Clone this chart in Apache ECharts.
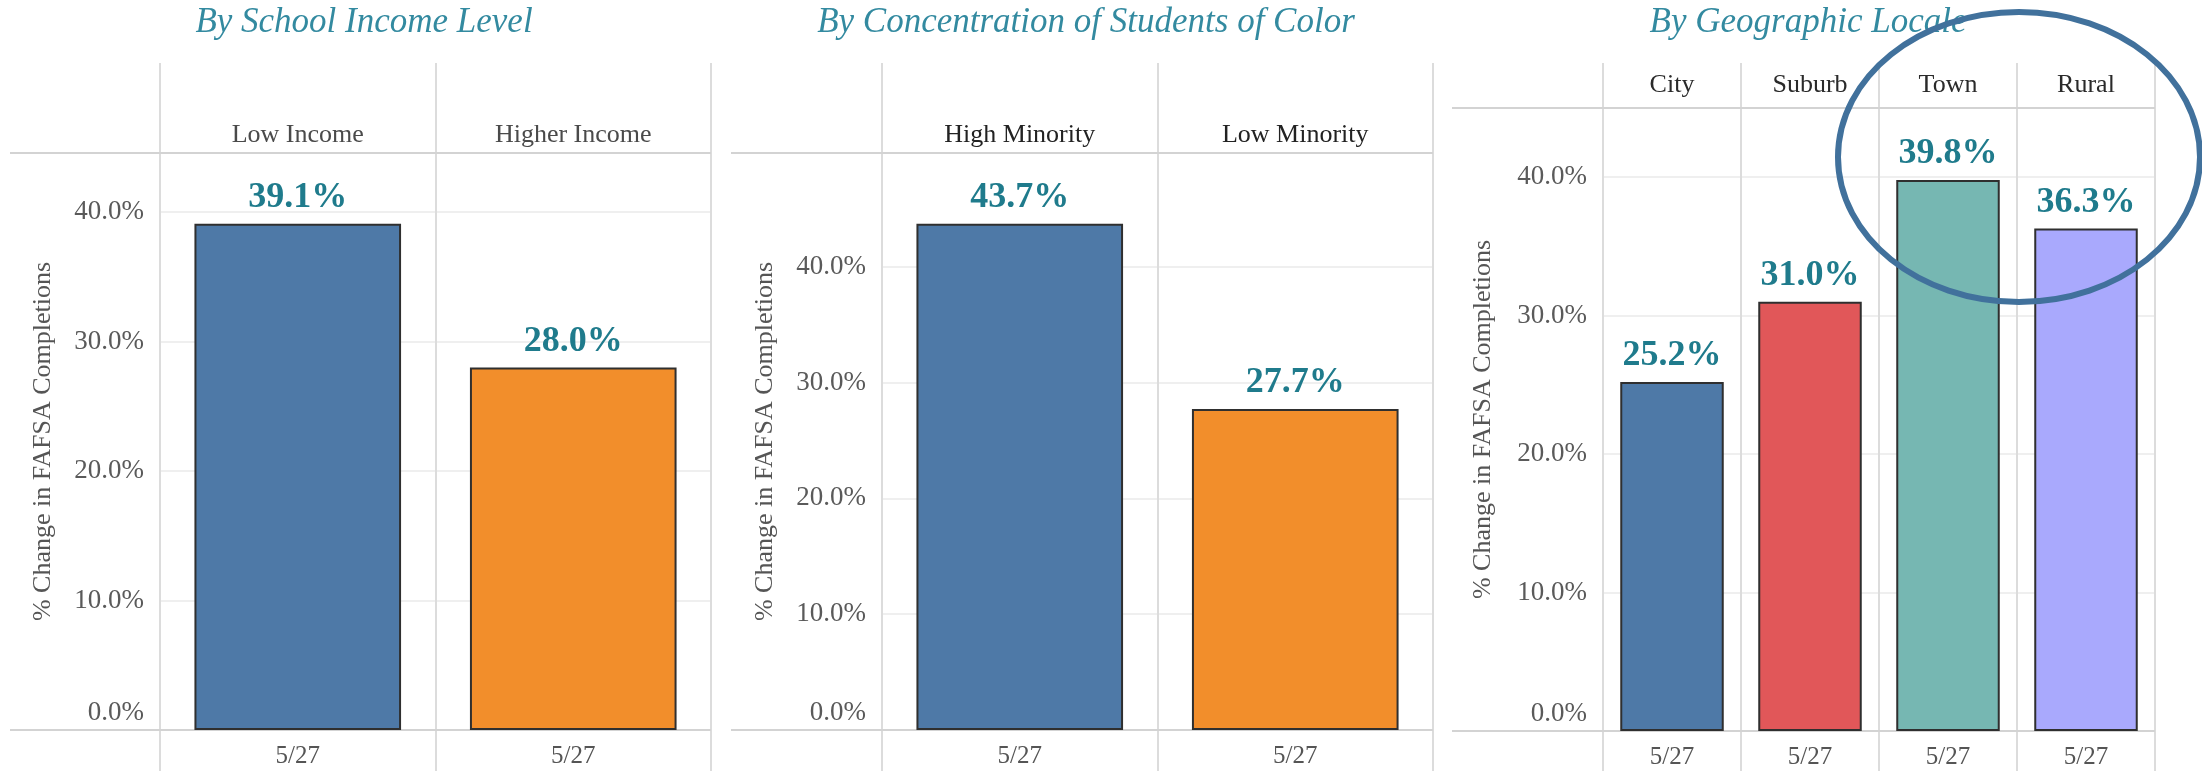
<!DOCTYPE html>
<html>
<head>
<meta charset="utf-8">
<script src="https://cdn.jsdelivr.net/npm/echarts/dist/echarts.min.js"></script>
<style>
html,body{margin:0;padding:0;background:#ffffff;overflow:hidden}
#chart{width:2202px;height:771px}
</style>
</head>
<body>
<div id="chart"></div>
<script>
// ---------- data ----------
const panelTitles = ['By School Income Level', 'By Concentration of Students of Color', 'By Geographic Locale'];
const incomeCategories = ['Low Income', 'Higher Income'];
const incomeValues = [39.1, 28.0];
const minorityCategories = ['High Minority', 'Low Minority'];
const minorityValues = [43.7, 27.7];
const localeCategories = ['City', 'Suburb', 'Town', 'Rural'];
const localeValues = [25.2, 31.0, 39.8, 36.3];
const dateLabel = '5/27';
const yTickValues = [0, 10, 20, 30, 40];
const yAxisTitle = '% Change in FAFSA Completions';
const incomeColors = ['#4e79a7', '#f28e2b'];
const minorityColors = ['#4e79a7', '#f28e2b'];
const localeColors = ['#4e79a7', '#e15759', '#76b7b2', '#a9a9fd'];

// ---------- layout / style ----------
const FONT = '"Liberation Serif", "Times New Roman", serif';
const TICK_SIZE = 27;
const panels = [
  { cats: incomeCategories, vals: incomeValues, colors: incomeColors, headColor: '#4a4a4a',
    plotL: 160, plotR: 711, top: 153, bottom: 730, ruleL: 10, max: 44.56, headMargin: 5, titleX: 359, nameGap: 104 },
  { cats: minorityCategories, vals: minorityValues, colors: minorityColors, headColor: '#222222',
    plotL: 882, plotR: 1433, top: 153, bottom: 730, ruleL: 731, max: 49.8, headMargin: 5, titleX: 1081, nameGap: 104 },
  { cats: localeCategories, vals: localeValues, colors: localeColors, headColor: '#2a2a2a',
    plotL: 1603, plotR: 2155, top: 108, bottom: 731, ruleL: 1452, max: 45.0, headMargin: 10, titleX: 1803, nameGap: 107 }
];
const W = 2202, H = 771;
const ruleTop = 63;

const option = {
  backgroundColor: '#ffffff',
  animation: false,
  title: [], grid: [], xAxis: [], yAxis: [], series: [],
  graphic: []
};

panels.forEach((p, i) => {
  option.title.push({
    text: panelTitles[i], left: p.titleX, top: 0, textAlign: 'center',
    textStyle: { fontFamily: FONT, fontStyle: 'italic', fontWeight: 'normal', fontSize: 35, color: '#338aa0' }
  });
  const g0 = option.grid.length;
  option.grid.push({ left: p.plotL, width: p.plotR - p.plotL, top: p.top, height: p.bottom - p.top, containLabel: false });
  option.grid.push({ left: p.plotL, width: p.plotR - p.plotL, top: ruleTop, height: H - ruleTop });
  option.grid.push({ left: p.ruleL, width: p.plotR - p.ruleL, top: p.top, height: p.bottom - p.top });

  const x0 = option.xAxis.length;
  option.xAxis.push({
    type: 'category', gridIndex: g0, position: 'bottom', data: p.cats,
    axisLine: { show: false }, axisTick: { show: false }, splitLine: { show: false },
    axisLabel: { interval: 0, margin: 14, formatter: () => dateLabel, fontFamily: FONT, fontSize: 25, color: '#555555' }
  });
  option.xAxis.push({
    type: 'category', gridIndex: g0, position: 'top', data: p.cats,
    axisLine: { show: false }, axisTick: { show: false }, splitLine: { show: false },
    axisLabel: { interval: 0, margin: p.headMargin, fontFamily: FONT, fontSize: 26, color: p.headColor }
  });
  option.xAxis.push({
    type: 'category', gridIndex: g0 + 1, data: p.cats,
    axisLine: { show: false }, axisTick: { show: false }, axisLabel: { show: false },
    splitLine: { show: true, interval: 0, lineStyle: { color: '#dcdcdc', width: 2 } }
  });
  option.xAxis.push({ type: 'value', gridIndex: g0 + 2, show: false, min: 0, max: 1 });

  const y0 = option.yAxis.length;
  option.yAxis.push({
    type: 'value', gridIndex: g0, min: 0, max: p.max, interval: 10, z: 0,
    name: yAxisTitle, nameLocation: 'middle', nameGap: p.nameGap,
    nameTextStyle: { fontFamily: FONT, fontSize: 26, color: '#555555' },
    axisLine: { show: false }, axisTick: { show: false },
    axisLabel: {
      margin: 16, fontFamily: FONT, fontSize: TICK_SIZE, color: '#5a5a5a', showMaxLabel: false,
      formatter: v => {
        if (yTickValues.indexOf(v) < 0) return '';
        const s = v.toFixed(1) + '%';
        return v === yTickValues[0] ? '{m|' + s + '}' : s;
      },
      rich: { m: { fontFamily: FONT, fontSize: TICK_SIZE, color: '#5a5a5a', padding: [0, 0, 34, 0] } }
    },
    splitLine: { show: true, lineStyle: { color: '#efefef', width: 2 } }
  });
  option.yAxis.push({ type: 'value', gridIndex: g0 + 1, show: false, min: 0, max: 1 });
  option.yAxis.push({
    type: 'value', gridIndex: g0 + 2, min: 0, max: 1, interval: 1, z: 1,
    axisLine: { show: false }, axisTick: { show: false }, axisLabel: { show: false },
    splitLine: { show: true, lineStyle: { color: '#d3d3d3', width: 2 } }
  });

  option.series.push({
    type: 'bar', xAxisIndex: x0, yAxisIndex: y0, z: 3,
    barCategoryGap: '25%',
    data: p.vals.map((v, k) => ({ value: v, itemStyle: { color: p.colors[k] } })),
    itemStyle: { borderColor: '#2f2f2f', borderWidth: 2 },
    label: {
      show: true, position: 'top', distance: 8,
      formatter: d => d.value.toFixed(1) + '%',
      fontFamily: FONT, fontWeight: 'bold', fontSize: 36, color: '#1f7b8c'
    }
  });
});

// annotation ellipse around Town / Rural
option.graphic.push({
  type: 'ellipse', z: 100, silent: true,
  shape: { cx: 2019, cy: 157, rx: 181, ry: 145 },
  style: { fill: 'none', stroke: '#41719c', lineWidth: 6 }
});

const chart = echarts.init(document.getElementById('chart'), null, { renderer: 'canvas', width: W, height: H });
chart.setOption(option);
</script>
</body>
</html>
